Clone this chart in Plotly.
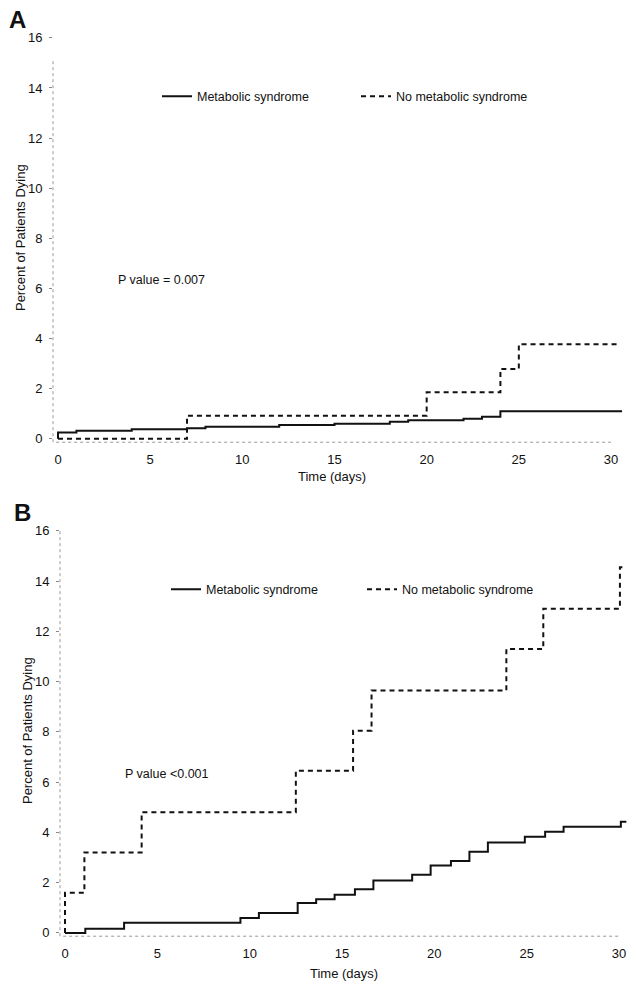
import plotly.graph_objects as go

# ---------------- data ----------------
# Panel A
a_ms_days = [0, 0, 1, 4, 7, 8, 12, 15, 18, 19, 22, 23, 24, 30.6]
a_ms_vals = [0, 0.25, 0.32, 0.38, 0.42, 0.48, 0.55, 0.6, 0.68, 0.74, 0.8, 0.88, 1.1, 1.1]
a_no_days = [0, 7, 20, 24, 25, 30.5]
a_no_vals = [0, 0.92, 1.85, 2.78, 3.77, 3.77]
# Panel B
b_ms_days = [0, 1.1, 3.2, 9.5, 10.5, 12.6, 13.6, 14.6, 15.7, 16.7, 18.8, 19.8,
             20.9, 21.9, 22.9, 24.9, 26.0, 27.0, 30.1, 30.4]
b_ms_vals = [0, 0.17, 0.40, 0.59, 0.79, 1.19, 1.34, 1.52, 1.74, 2.09, 2.31, 2.68,
             2.86, 3.23, 3.60, 3.83, 4.03, 4.22, 4.42, 4.42]
b_no_days = [0, 0, 1.05, 4.15, 12.5, 15.6, 16.6, 23.9, 25.9, 30.05, 30.2]
b_no_vals = [0, 1.6, 3.2, 4.8, 6.45, 8.05, 9.65, 11.3, 12.9, 14.55, 14.55]

y_ticks = [0, 2, 4, 6, 8, 10, 12, 14, 16]
x_ticks = [0, 5, 10, 15, 20, 25, 30]
name_ms = "Metabolic syndrome"
name_no = "No metabolic syndrome"
p_a = "P value = 0.007"
p_b = "P value <0.001"
y_title = "Percent of Patients Dying"
x_title = "Time (days)"

# ---------------- figure ----------------
W, H = 636, 992
FONT = "Liberation Sans, Arial, sans-serif"
INK = "#111111"

def px_x(p):
    return p / W

def px_y(p):
    return 1 - p / H

fig = go.Figure()

solid = dict(color=INK, width=2)
dashed = dict(color=INK, width=2, dash="5px,4px")

fig.add_trace(go.Scatter(x=a_ms_days, y=a_ms_vals, mode="lines", line_shape="hv",
                         line=solid, name=name_ms, xaxis="x", yaxis="y",
                         legend="legend", showlegend=True))
fig.add_trace(go.Scatter(x=a_no_days, y=a_no_vals, mode="lines", line_shape="hv",
                         line=dashed, name=name_no, xaxis="x", yaxis="y",
                         legend="legend2", showlegend=True))
fig.add_trace(go.Scatter(x=b_ms_days, y=b_ms_vals, mode="lines", line_shape="hv",
                         line=solid, name=name_ms, xaxis="x2", yaxis="y2",
                         legend="legend3", showlegend=True))
fig.add_trace(go.Scatter(x=b_no_days, y=b_no_vals, mode="lines", line_shape="hv",
                         line=dashed, name=name_no, xaxis="x2", yaxis="y2",
                         legend="legend4", showlegend=True))

# axis geometry (pixels)
# Panel A: x 0 -> 58px, 30 -> 611px ; y 0 -> 440.5px, 16 -> 38px
A_left, A_right, A_top, A_bot = 53, 625, 30, 444
ax_dx = (611 - 58) / 30
ax_dy = (440.5 - 38) / 16
B_left, B_right, B_top, B_bot = 60, 632, 525, 940
bx_dx = (619 - 65) / 30
by_dy = (936.7 - 533) / 16

base = dict(showgrid=False, zeroline=False, showline=False,
            tickfont=dict(family=FONT, size=13, color=INK))
yax = dict(ticks="outside", ticklen=3, tickcolor="#888888", tickwidth=1,
           ticklabelstandoff=4, tickvals=y_ticks, **base)
xax = dict(ticks="", ticklabelstandoff=8, tickvals=x_ticks, **base)

fig.update_layout(
    width=W, height=H, margin=dict(l=0, r=0, t=0, b=0),
    paper_bgcolor="white", plot_bgcolor="white", showlegend=True,
    xaxis=dict(domain=[px_x(A_left), px_x(A_right)],
               range=[(A_left - 58) / ax_dx, (A_right - 58) / ax_dx], anchor="y", **xax),
    yaxis=dict(domain=[px_y(A_bot), px_y(A_top)],
               range=[-(A_bot - 440.5) / ax_dy, 16 + (38 - A_top) / ax_dy], anchor="x", **yax),
    xaxis2=dict(domain=[px_x(B_left), px_x(B_right)],
                range=[(B_left - 65) / bx_dx, (B_right - 65) / bx_dx], anchor="y2", **xax),
    yaxis2=dict(domain=[px_y(B_bot), px_y(B_top)],
                range=[-(B_bot - 936.7) / by_dy, 16 + (533 - B_top) / by_dy], anchor="x2", **yax),
)

leg_common = dict(bgcolor="rgba(0,0,0,0)", borderwidth=0, xanchor="left", yanchor="middle",
                  itemwidth=30, visible=True, font=dict(family=FONT, size=12.5, color=INK))
fig.update_layout(
    legend=dict(x=px_x(157), y=px_y(97), **leg_common),
    legend2=dict(x=px_x(356), y=px_y(97), **leg_common),
    legend3=dict(x=px_x(166), y=px_y(592), **leg_common),
    legend4=dict(x=px_x(362), y=px_y(592), **leg_common),
)

# dotted axis lines
dot = dict(color="#999999", width=1, dash="dot")
fig.add_shape(type="line", xref="x domain", yref="y domain", x0=0, x1=0, y0=0, y1=0.93, line=dot)
fig.add_shape(type="line", xref="x", yref="y domain", x0=-0.1, x1=30, y0=0, y1=0, line=dot)
fig.add_shape(type="line", xref="x2 domain", yref="y2 domain", x0=0, x1=0, y0=0, y1=0.98, line=dot)
fig.add_shape(type="line", xref="x2", yref="y2 domain", x0=-0.1, x1=30, y0=0, y1=0, line=dot)

# annotations: panel letters, titles, p-values
ann = []
ann.append(dict(text="<b>A</b>", x=px_x(17), y=px_y(20), font=dict(family=FONT, size=24, color=INK)))
ann.append(dict(text="<b>B</b>", x=px_x(22), y=px_y(515), font=dict(family=FONT, size=24, color=INK)))
ann.append(dict(text=y_title, x=px_x(20), y=px_y(239), textangle=-90, font=dict(family=FONT, size=13, color=INK)))
ann.append(dict(text=y_title, x=px_x(27), y=px_y(734), textangle=-90, font=dict(family=FONT, size=13, color=INK)))
ann.append(dict(text=x_title, x=px_x(332), y=px_y(478), font=dict(family=FONT, size=13, color=INK)))
ann.append(dict(text=x_title, x=px_x(344), y=px_y(977), font=dict(family=FONT, size=13, color=INK)))
ann.append(dict(text=p_a, x=px_x(116), y=px_y(281), xanchor="left", font=dict(family=FONT, size=12.5, color=INK)))
ann.append(dict(text=p_b, x=px_x(123), y=px_y(777), xanchor="left", font=dict(family=FONT, size=12.5, color=INK)))
for a in ann:
    a.setdefault("xanchor", "center")
    fig.add_annotation(xref="paper", yref="paper", yanchor="middle", showarrow=False, **a)

fig.write_html("out.html", config={"displayModeBar": False},
               post_script="document.body.style.margin='0';document.body.style.overflow='hidden';")
